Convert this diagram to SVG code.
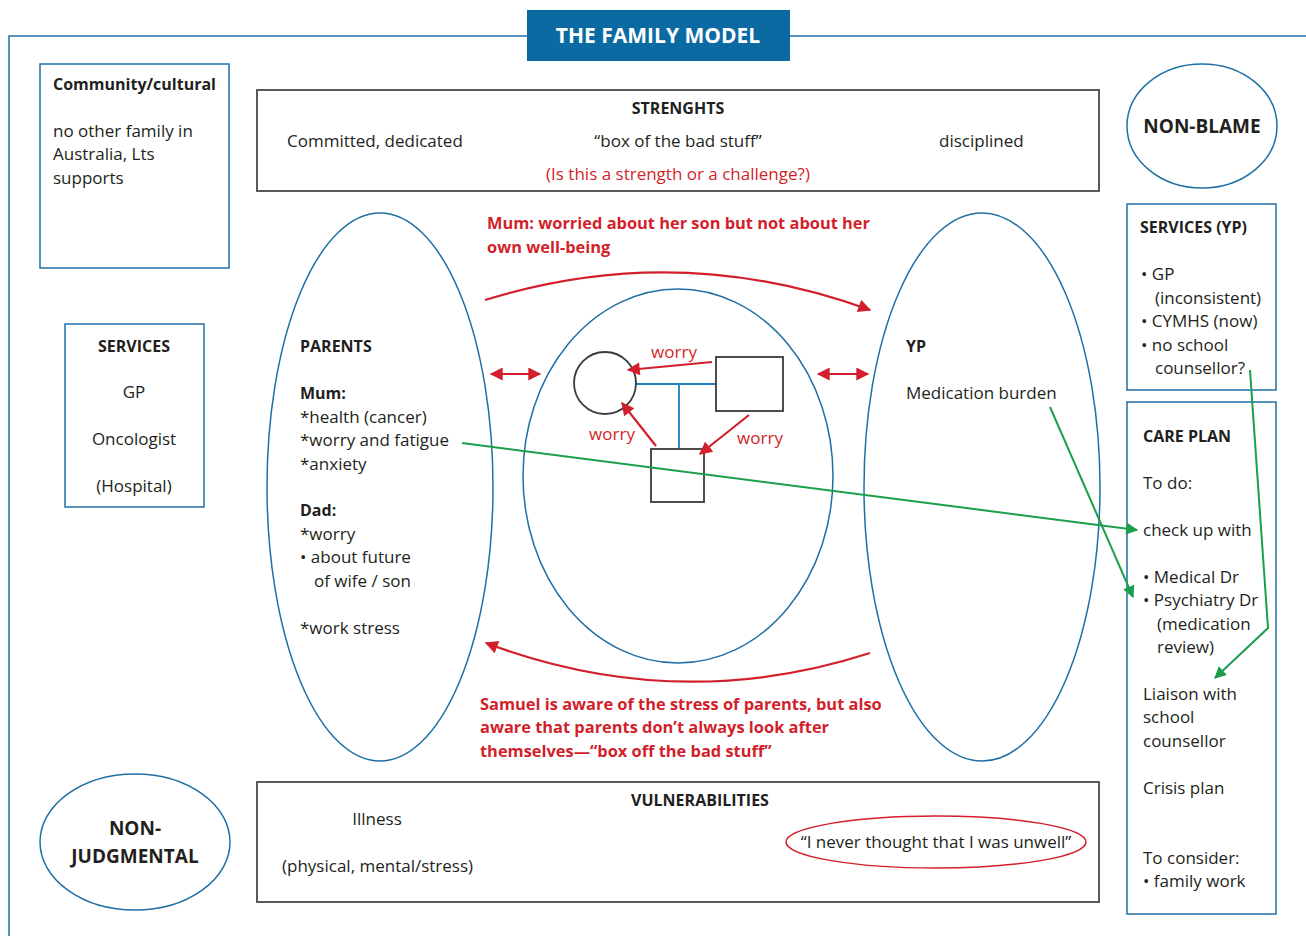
<svg xmlns="http://www.w3.org/2000/svg" width="1306" height="936" viewBox="0 0 1306 936">
<defs>
<style>
text{font-family:"Open Sans","Noto Sans",sans-serif;font-size:17px;fill:#231f20}
.b{font-weight:bold;font-size:16px}
.c{text-anchor:middle}
.r{fill:#d21f2b}
.rb{fill:#d21f2b;font-weight:bold;font-size:16.4px}
.blue{fill:none;stroke:#1f6fa5;stroke-width:1.5}
.gray{fill:none;stroke:#4a4a4a;stroke-width:1.8}
.red{fill:none;stroke:#d21f2b;stroke-width:2.2}
.grn{fill:none;stroke:#1c9f4c;stroke-width:2}
.gen{fill:#fff;stroke:#3a3a3a;stroke-width:1.8}
</style>
<marker id="arB" viewBox="0 0 10 10" refX="9" refY="5" markerWidth="16" markerHeight="13" orient="auto-start-reverse" markerUnits="userSpaceOnUse"><path d="M0,0 L10,5 L0,10 z" fill="#d21f2b"/></marker>
<marker id="ag" viewBox="0 0 10 10" refX="9" refY="5" markerWidth="15" markerHeight="12" orient="auto" markerUnits="userSpaceOnUse"><path d="M0,0 L10,5 L0,10 z" fill="#1c9f4c"/></marker>
</defs>

<g id="frame">
<path d="M527,36 H9 V936 M790,36 H1306" class="blue"/>
</g>
<g id="title">
<rect x="527" y="10" width="263" height="51" fill="#0b6aa2"/>
<text x="658" y="43" class="c" style="fill:#fff;font-size:21px;font-weight:bold">THE FAMILY MODEL</text>
</g>

<g id="community">
<rect x="40" y="64" width="189" height="204" class="blue"/>
<text x="53" y="90" class="b">Community/cultural</text>
<text x="53" y="137">no other family in</text>
<text x="53" y="160">Australia, Lts</text>
<text x="53" y="184">supports</text>
</g>

<g id="strengths">
<rect x="257" y="90" width="842" height="101" class="gray"/>
<text x="678" y="114" class="c b">STRENGHTS</text>
<text x="287" y="147">Committed, dedicated</text>
<text x="678" y="147" class="c">“box of the bad stuff”</text>
<text x="939" y="147">disciplined</text>
<text x="678" y="180" class="c r">(Is this a strength or a challenge?)</text>
</g>

<g id="nonblame">
<ellipse cx="1202" cy="126" rx="75" ry="62" class="blue"/>
<text x="1202" y="133" class="c" style="font-size:19px;font-weight:bold">NON-BLAME</text>
</g>

<g id="services-yp">
<rect x="1127" y="204" width="149" height="186" class="blue"/>
<text x="1140" y="233" class="b">SERVICES (YP)</text>
<text x="1141" y="280">• GP</text>
<text x="1155" y="304">(inconsistent)</text>
<text x="1141" y="327">• CYMHS (now)</text>
<text x="1141" y="351">• no school</text>
<text x="1155" y="374">counsellor?</text>
</g>

<g id="careplan">
<rect x="1127" y="402" width="149" height="512" class="blue"/>
<text x="1143" y="442" class="b">CARE PLAN</text>
<text x="1143" y="489">To do:</text>
<text x="1143" y="536">check up with</text>
<text x="1143" y="583">• Medical Dr</text>
<text x="1143" y="606">• Psychiatry Dr</text>
<text x="1157" y="630">(medication</text>
<text x="1157" y="653">review)</text>
<text x="1143" y="700">Liaison with</text>
<text x="1143" y="723">school</text>
<text x="1143" y="747">counsellor</text>
<text x="1143" y="794">Crisis plan</text>
<text x="1143" y="864">To consider:</text>
<text x="1143" y="887">• family work</text>
</g>

<g id="services">
<rect x="65" y="324" width="139" height="183" class="blue"/>
<text x="134" y="352" class="c b">SERVICES</text>
<text x="134" y="398" class="c">GP</text>
<text x="134" y="445" class="c">Oncologist</text>
<text x="134" y="492" class="c">(Hospital)</text>
</g>

<g id="parents">
<ellipse cx="380" cy="487" rx="113" ry="274" class="blue"/>
<text x="300" y="352" class="b">PARENTS</text>
<text x="300" y="399" class="b">Mum:</text>
<text x="300" y="423">*health (cancer)</text>
<text x="300" y="446">*worry and fatigue</text>
<text x="300" y="470">*anxiety</text>
<text x="300" y="516" class="b">Dad:</text>
<text x="300" y="540">*worry</text>
<text x="300" y="563">• about future</text>
<text x="314" y="587">of wife / son</text>
<text x="300" y="634">*work stress</text>
</g>

<g id="family">
<ellipse cx="678" cy="476" rx="155" ry="187" class="blue"/>
<line x1="636" y1="384" x2="716" y2="384" stroke="#1f7fbf" stroke-width="1.8"/>
<line x1="679" y1="384" x2="679" y2="449" stroke="#1f7fbf" stroke-width="1.8"/>
<circle cx="605" cy="383" r="31" class="gen"/>
<rect x="716" y="357" width="67" height="54" class="gen"/>
<rect x="651" y="449" width="53" height="53" class="gen"/>
</g>

<g id="yp">
<ellipse cx="982" cy="487" rx="118" ry="274" class="blue"/>
<text x="906" y="352" class="b">YP</text>
<text x="906" y="399">Medication burden</text>
</g>

<g id="nonjudgmental">
<ellipse cx="135" cy="842" rx="95" ry="68" class="blue"/>
<text x="135" y="835" class="c" style="font-size:19px;font-weight:bold">NON-</text>
<text x="135" y="863" class="c" style="font-size:19px;font-weight:bold">JUDGMENTAL</text>
</g>

<g id="vulnerabilities">
<rect x="257" y="782" width="842" height="120" class="gray"/>
<text x="700" y="806" class="c b">VULNERABILITIES</text>
<text x="377" y="825" class="c">Illness</text>
<text x="282" y="872">(physical, mental/stress)</text>
<ellipse cx="936" cy="842" rx="150" ry="26" fill="none" stroke="#d21f2b" stroke-width="1.5"/>
<text x="936" y="848" class="c">“I never thought that I was unwell”</text>
</g>

<g id="labels">
<text x="487" y="229" class="rb">Mum: worried about her son but not about her</text>
<text x="487" y="253" class="rb">own well-being</text>
<text x="480" y="710" class="rb">Samuel is aware of the stress of parents, but also</text>
<text x="480" y="733" class="rb">aware that parents don’t always look after</text>
<text x="480" y="757" class="rb">themselves—“box off the bad stuff”</text>
<text x="674" y="358" class="c r">worry</text>
<text x="612" y="440" class="c r">worry</text>
<text x="760" y="444" class="c r">worry</text>
</g>

<g id="connectors">
<path d="M485,300 Q678,240 870,310" class="red" marker-end="url(#arB)"/>
<path d="M870,653 Q678,715 486,643" class="red" marker-end="url(#arB)"/>
<line x1="491" y1="374" x2="540" y2="374" class="red" marker-start="url(#arB)" marker-end="url(#arB)"/>
<line x1="818" y1="374" x2="868" y2="374" class="red" marker-start="url(#arB)" marker-end="url(#arB)"/>
<line x1="712" y1="362" x2="628" y2="370" class="red" marker-end="url(#arB)"/>
<line x1="656" y1="446" x2="622" y2="403" class="red" marker-end="url(#arB)"/>
<line x1="749" y1="415" x2="700" y2="454" class="red" marker-end="url(#arB)"/>
<line x1="462" y1="443" x2="1137" y2="530" class="grn" marker-end="url(#ag)"/>
<line x1="1050" y1="407" x2="1133" y2="597" class="grn" marker-end="url(#ag)"/>
<polyline points="1250,370 1268,628 1215,678" class="grn" marker-end="url(#ag)"/>
</g>
</svg>
